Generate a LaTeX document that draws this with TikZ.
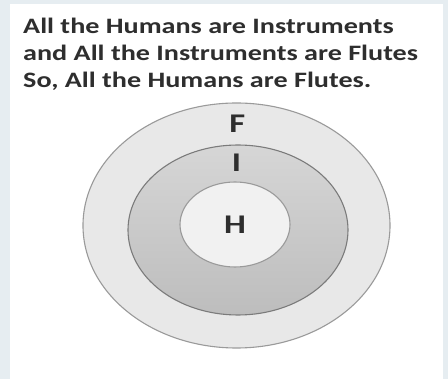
\documentclass[tikz,border=0pt]{standalone}
\usepackage{fontspec}
\setmainfont{Carlito}
\newfontfamily\wideface[FakeStretch=1.28]{Carlito}
\usetikzlibrary{shapes.geometric,calc}
\definecolor{frameBg}{HTML}{E6EDF1}
\definecolor{ringLine}{HTML}{9A9A9A}
\definecolor{ringOut}{HTML}{E8E8E8}
\definecolor{ringMidTop}{HTML}{D6D6D6}
\definecolor{ringMidBot}{HTML}{BDBDBD}
\definecolor{ringIn}{HTML}{F1F1F1}
\definecolor{txtGrey}{HTML}{2E2E2E}

\begin{document}
\begin{tikzpicture}[
  x=1pt, y=-1pt,
  font=\wideface\fontsize{22pt}{27pt}\selectfont\bfseries,
  set/.style   ={ellipse, draw=ringLine, line width=1.1pt, inner sep=0pt},
  setlbl/.style={inner sep=0pt, text=txtGrey, font=\wideface\fontsize{27pt}{27pt}\selectfont\bfseries},
  claim/.style ={inner sep=0pt, anchor=north west, align=left, text=txtGrey},
]

% ---- frame: pale border left, top and right, white panel ------------------------
\fill[frameBg] (0,0) rectangle (448,379);
\fill[white] (10,4) rectangle (443,379);
\useasboundingbox (0,0) rectangle (448,379);

% ---- the syllogism --------------------------------------------------------------
\node[claim] (txt) at (23,18)
  {All the Humans are Instruments\\
   and All the Instruments are Flutes\\
   So, All the Humans are Flutes.};

% ---- nested sets, outermost first ------------------------------------------------
\node[set, fill=ringOut, minimum width=307pt, minimum height=245pt] (setF) at (236.5,225.5) {};
\node[set, draw=ringLine!80!black, top color=ringMidTop, bottom color=ringMidBot,
      minimum width=220pt, minimum height=170pt] (setI) at (238,230) {};
\node[set, fill=ringIn, minimum width=110pt, minimum height=85pt] (setH) at (235,224.5) {};

% letters sit midway between a set's top and the top of the set inside it
\node[setlbl] (lblF) at ($(setF.north)!0.5!(setI.north)$) {F};
\node[setlbl] (lblI) at ($(setI.north)!0.5!(setH.north)$) {I};
\node[setlbl] (lblH) at (setH) {H};

\end{tikzpicture}
\end{document}
